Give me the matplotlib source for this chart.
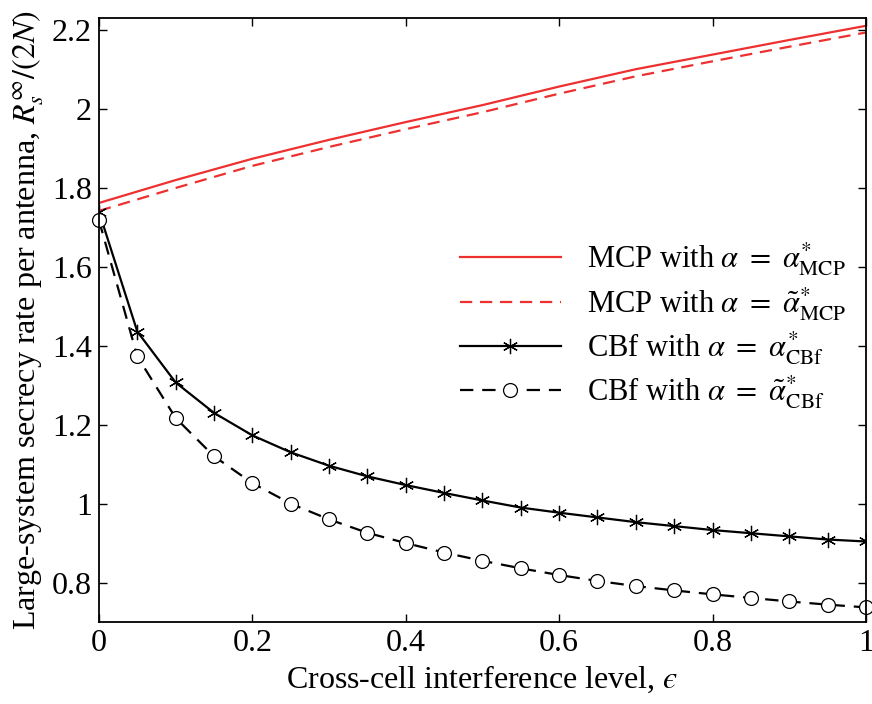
import numpy as np
import matplotlib
matplotlib.use("Agg")
import matplotlib.pyplot as plt

plt.rcParams['font.family'] = ['Liberation Serif', 'DejaVu Serif']
plt.rcParams['mathtext.fontset'] = 'stix'

# MCP curves, sampled every 0.1
eps_mcp = [0.0, 0.1, 0.2, 0.3, 0.4, 0.5, 0.6, 0.7, 0.8, 0.9, 1.0]
mcp_opt = [1.762, 1.820, 1.874, 1.922, 1.967, 2.010, 2.057, 2.101, 2.138, 2.175, 2.211]
mcp_approx = [1.742, 1.800, 1.856, 1.904, 1.949, 1.992, 2.039, 2.083, 2.121, 2.158, 2.194]

# CBf curves, sampled every 0.05
eps_cbf = [0.0, 0.05, 0.1, 0.15, 0.2, 0.25, 0.3, 0.35, 0.4, 0.45, 0.5,
           0.55, 0.6, 0.65, 0.7, 0.75, 0.8, 0.85, 0.9, 0.95, 1.0]
cbf_opt = [1.740, 1.436, 1.307, 1.230, 1.173, 1.130, 1.096, 1.069, 1.047, 1.027, 1.008,
           0.990, 0.977, 0.965, 0.953, 0.943, 0.933, 0.925, 0.917, 0.909, 0.904]
cbf_approx = [1.718, 1.373, 1.217, 1.120, 1.052, 1.000, 0.960, 0.926, 0.900, 0.876, 0.855,
              0.836, 0.819, 0.804, 0.791, 0.780, 0.770, 0.761, 0.752, 0.744, 0.737]

red = '#EE3030'
fs = 23

fig = plt.figure(figsize=(8.72, 7.04), dpi=100)
ax = fig.add_axes([0.1135, 0.1165, 0.8795, 0.8575])

ax.plot(eps_mcp, mcp_opt, color=red, lw=1.6,
        label=r'MCP with $\alpha\ =\ \alpha^{*}_{\mathrm{MCP}}$')
ax.plot(eps_mcp, mcp_approx, color=red, lw=1.6, dashes=(5.5, 3.5),
        label=r'MCP with $\alpha\ =\ \tilde{\alpha}^{*}_{\mathrm{MCP}}$')
ax.plot(eps_cbf, cbf_opt, color='black', lw=1.6, marker=(6, 2, 0), markersize=11,
        markeredgewidth=0.9, label=r'CBf with $\alpha\ =\ \alpha^{*}_{\mathrm{CBf}}$')
ax.plot(eps_cbf, cbf_approx, color='black', lw=1.6, dashes=(6, 4), marker='o',
        markersize=10, markerfacecolor='white', markeredgewidth=0.9, clip_on=False,
        label=r'CBf with $\alpha\ =\ \tilde{\alpha}^{*}_{\mathrm{CBf}}$')

ax.set_xlim(0, 1)
ax.set_ylim(0.7, 2.23)
ax.set_xticks(np.arange(0, 1.01, 0.2))
ax.set_yticks(np.arange(0.8, 2.21, 0.2))
ax.xaxis.set_major_formatter(plt.FormatStrFormatter('%g'))
ax.yaxis.set_major_formatter(plt.FormatStrFormatter('%g'))
ax.tick_params(direction='in', top=True, right=True, labelsize=fs, length=6, width=1, pad=5)
for s in ax.spines.values():
    s.set_linewidth(1.3)

ax.set_xlabel('Cross-cell interference level, $\u03f5$', fontsize=fs, labelpad=4)
ax.set_ylabel(r'Large-system secrecy rate per antenna, $R_s^{\infty}/(2N)$', fontsize=fs, labelpad=4)

ax.legend(loc='center right', bbox_to_anchor=(1.01, 0.49), frameon=False, fontsize=22,
          handlelength=3.3, handletextpad=0.85, labelspacing=0.22)

fig.savefig('out.png', dpi=100)
